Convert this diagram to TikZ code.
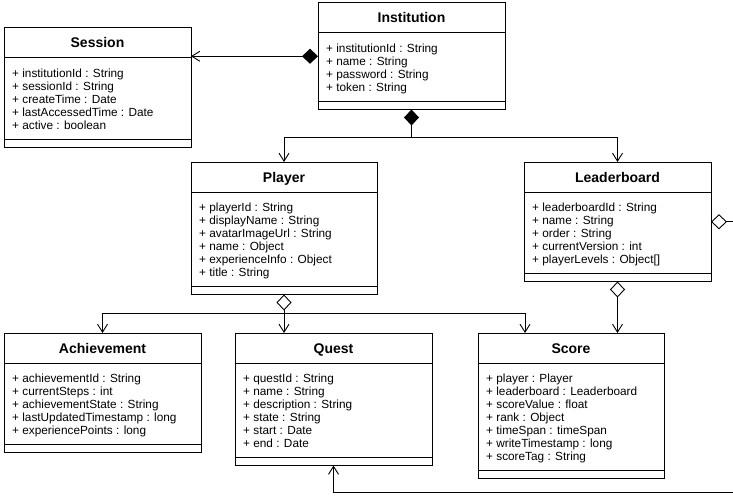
\documentclass[tikz,border=0pt]{standalone}
\usepackage{fontspec}
\setmainfont{Liberation Sans}
\usetikzlibrary{arrows.meta,calc}
\tikzset{
  classbox/.style={draw=black, line width=1pt, fill=white, rectangle, inner sep=0pt, outer sep=0pt},
  sepline/.style={draw=black, line width=1pt},
  titletext/.style={font=\fontsize{14}{16}\selectfont\bfseries, inner sep=0pt},
  attrtext/.style={font=\fontsize{11.8}{13}\selectfont, inner sep=0pt},
  conn/.style={draw=black, line width=0.9pt},
  comp/.tip={Diamond[length=16pt,width=15pt,fill=black]},
  aggr/.tip={Diamond[length=16pt,width=15pt,fill=white]},
  barb/.tip={Straight Barb[length=8pt,width=10pt]},
}
\newcommand{\umlclass}[7]{%
  \pgfmathsetmacro{\clsCmp}{29+(#5-1)*13}%
  \pgfmathsetmacro{\clsTot}{30+\clsCmp+8.5}%
  \node[classbox, minimum width=#4pt, minimum height=\clsTot pt, anchor=north west] (#1) at (#2,#3) {};
  \draw[sepline] ($(#1.north west)+(0,30)$) -- ($(#1.north east)+(0,30)$);
  \draw[sepline] ($(#1.north west)+(0,30+\clsCmp)$) -- ($(#1.north east)+(0,30+\clsCmp)$);
  \node[titletext, anchor=base] (#1-title) at ($(#1.north)+(0,20)$) {#6};
  \foreach \clsA [count=\clsI] in {#7} {
    \node[attrtext, anchor=base west] (#1-a\clsI) at ($(#1.north west)+(8,{30+19.5+(\clsI-1)*13})$) {\clsA};
  }
}
\begin{document}
\begin{tikzpicture}[x=1pt,y=-1pt]
\useasboundingbox (0,0) rectangle (733,495);

\umlclass{sess}{4}{28}{187}{5}{Session}{+ institutionId : String, + sessionId : String, + createTime : Date, + lastAccessedTime : Date, + active : boolean}
\umlclass{inst}{318}{3}{187}{4}{Institution}{+ institutionId : String, + name : String, + password : String, + token : String}
\umlclass{player}{191}{162}{186}{6}{Player}{+ playerId : String, + displayName : String, + avatarImageUrl : String, + name : Object, + experienceInfo : Object, + title : String}
\umlclass{lb}{524}{162}{187}{5}{Leaderboard}{+ leaderboardId : String, + name : String, + order : String, + currentVersion : int, + playerLevels : Object[]}
\umlclass{ach}{4}{333}{197}{5}{Achievement}{+ achievementId : String, + currentSteps : int, + achievementState : String, + lastUpdatedTimestamp : long, + experiencePoints : long}
\umlclass{quest}{235}{333}{197}{6}{Quest}{+ questId : String, + name : String, + description : String, + state : String, + start : Date, + end : Date}
\umlclass{score}{478}{333}{186}{7}{Score}{+ player : Player, + leaderboard : Leaderboard, + scoreValue : float, + rank : Object, + timeSpan : timeSpan, + writeTimestamp : long, + scoreTag : String}

% Institution -> Session
\draw[conn, comp-barb] (inst.west) -- (inst.west -| sess.east);

% Institution -> Player, Leaderboard
\coordinate (j1) at ($(inst.south)+(0,28)$);
\draw[conn, comp-] (inst.south) -- (j1);
\draw[conn, -barb] (j1) -| (player.north);
\draw[conn, -barb] (j1) -| (lb.north);

% Player -> Achievement, Quest, Score
\coordinate (j2) at ($(player.south)+(0,19)$);
\draw[conn, aggr-] (player.south) -- (j2);
\draw[conn, -barb] (j2) -| (ach.north);
\draw[conn, -barb] (j2) -- (j2 |- quest.north);
\coordinate (scin) at ($(score.north west)+(47,0)$);
\draw[conn, -barb] (j2) -| (scin);

% Leaderboard -> Score
\draw[conn, aggr-barb] (lb.south) -- (lb.south |- score.north);

% Leaderboard -> off right
\coordinate (edgeR) at (733,0);
\coordinate (lbout) at (lb.east -| edgeR);
\draw[conn, aggr-] (lb.east) -- (lbout);

% off right -> Quest
\coordinate (qout) at (733,492);
\draw[conn, -barb] (qout) -| (quest.south);
\end{tikzpicture}
\end{document}
